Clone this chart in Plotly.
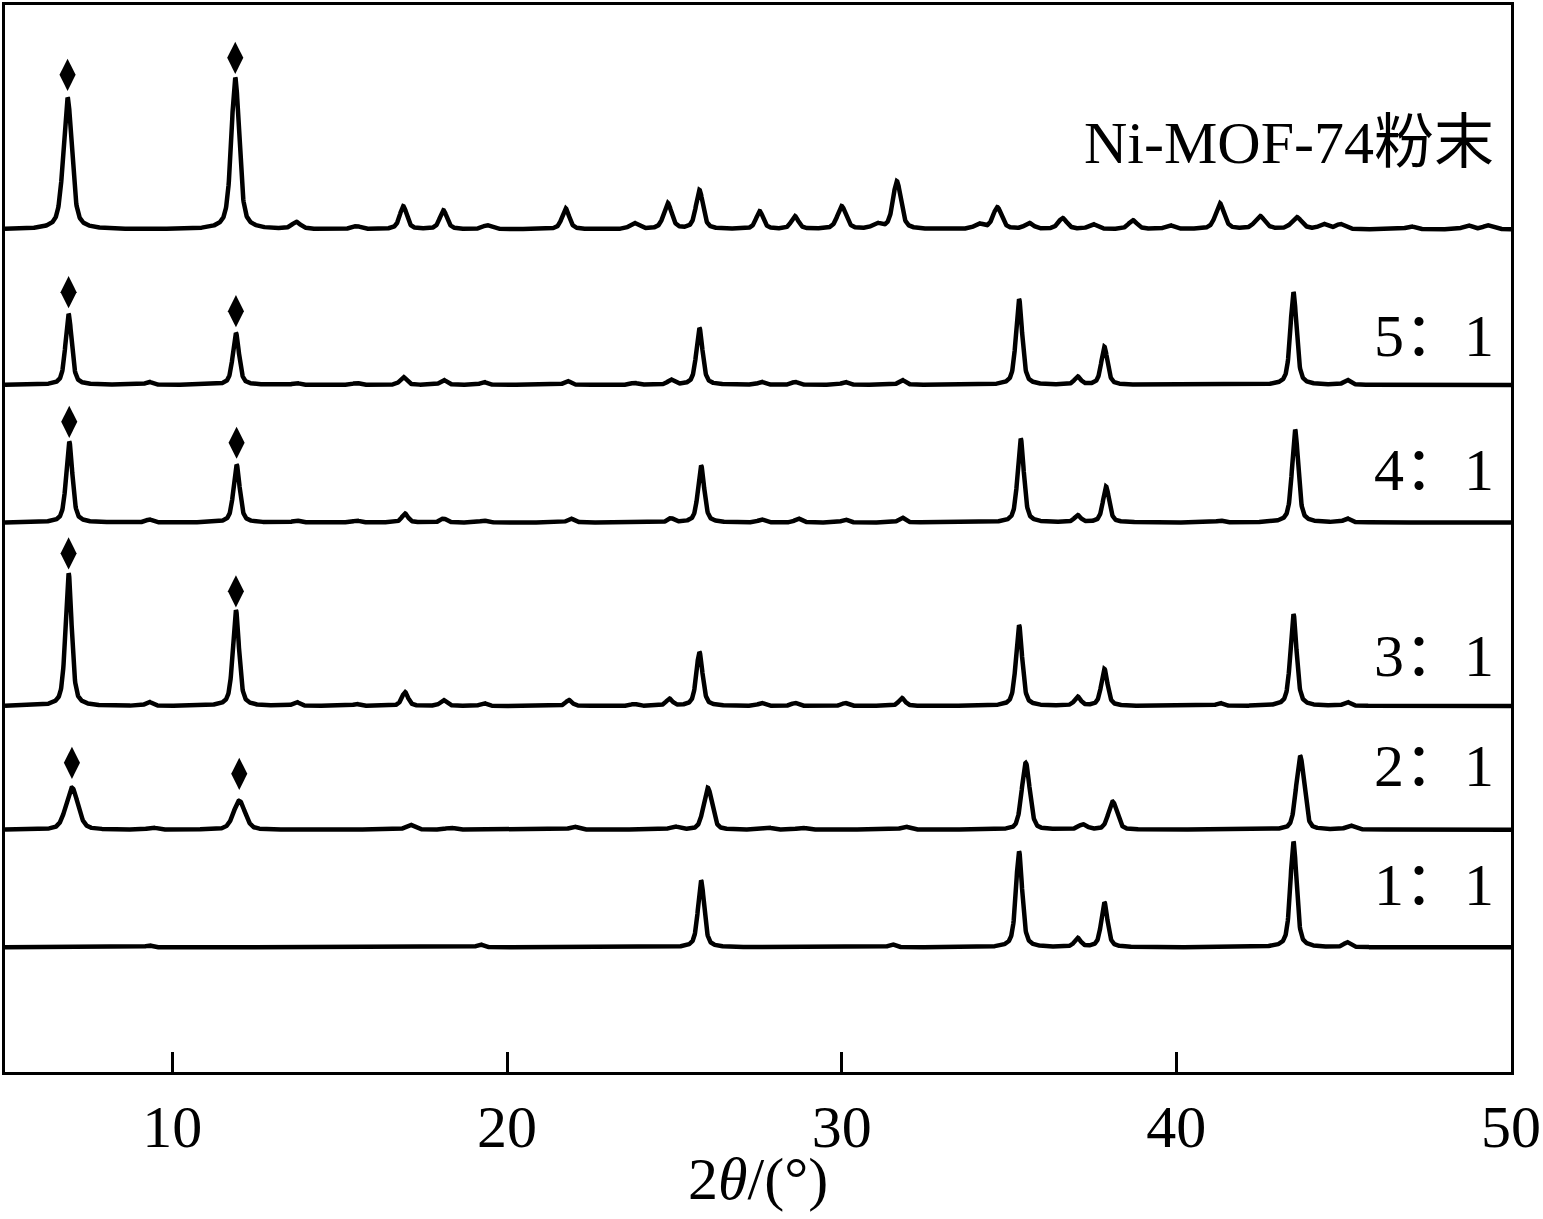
import numpy as np
import plotly.graph_objects as go

# ---- data (2theta in degrees, intensity in a.u.) ----
two_theta = np.linspace(5, 50, 4501)

mof_pos = [6.87, 11.88, 13.7, 15.5, 16.9, 18.1, 19.4, 21.75, 23.8, 24.8, 25.75, 27.55,
           28.6, 30.0, 31.05, 31.65, 34.1, 34.65, 35.6, 36.6, 37.5, 38.7, 39.8, 41.3,
           42.5, 43.6, 44.4, 44.9, 47.0, 48.7, 49.3]
mof_int = [132, 152, 7, 3, 23, 19, 4, 21, 6, 26, 39, 18,
           13, 23, 5, 48, 5, 22, 6, 11, 5, 9, 4, 26,
           13, 12, 5, 5, 3, 4, 4]
mof_fwhm = [0.3, 0.28, 0.3, 0.3, 0.25, 0.25, 0.3, 0.25, 0.3, 0.28, 0.25, 0.25,
            0.25, 0.3, 0.3, 0.28, 0.3, 0.3, 0.3, 0.3, 0.3, 0.3, 0.3, 0.3,
            0.35, 0.35, 0.3, 0.3, 0.3, 0.3, 0.3]

r51_pos = [6.9, 9.3, 11.9, 13.7, 15.5, 16.9, 18.1, 19.3, 21.8, 23.8, 24.9, 25.75,
           27.6, 28.6, 30.1, 31.8, 35.3, 37.05, 37.85, 43.5, 45.1]
r51_int = [71, 3, 52, 2, 2, 8, 5, 3, 4, 2, 5, 57, 3, 3, 3, 5, 86, 8, 38, 93, 5]

r41_pos = [6.92, 9.3, 11.92, 13.7, 15.5, 16.95, 18.1, 19.3, 21.9, 24.9, 25.8, 27.6,
           28.7, 30.1, 31.8, 35.35, 37.05, 37.9, 41.3, 43.55, 45.1]
r41_int = [81, 3, 58, 2, 2, 9, 4, 2, 4, 4, 57, 3, 4, 3, 5, 84, 7, 36, 2, 93, 4]

r31_pos = [6.9, 9.3, 11.9, 13.7, 15.5, 16.95, 18.1, 19.3, 21.85, 23.8, 24.85, 25.75,
           27.6, 28.6, 30.1, 31.8, 35.3, 37.05, 37.85, 41.3, 43.5, 45.1]
r31_int = [133, 4, 96, 4, 2, 14, 6, 3, 6, 2, 7, 54, 3, 3, 3, 8, 81, 9, 37, 3, 92, 4]

r21_pos = [7.0, 9.4, 12.0, 17.1, 18.3, 22.0, 25.0, 26.0, 27.8, 28.8, 31.9, 35.5,
           37.2, 38.1, 43.7, 45.2]
r21_int = [42, 2, 29, 5, 2, 3, 3, 42, 2, 2, 3, 67, 5, 28, 74, 4]
r21_fwhm = [0.42, 0.3, 0.4, 0.3, 0.3, 0.3, 0.3, 0.3, 0.3, 0.3, 0.3, 0.28,
            0.3, 0.3, 0.28, 0.3]

r11_pos = [9.3, 19.2, 25.8, 31.5, 35.3, 37.05, 37.85, 43.5, 45.1]
r11_int = [2, 3, 67, 3, 96, 9, 45, 106, 5]

labels = ["Ni-MOF-74粉末", "5：1", "4：1", "3：1", "2：1", "1：1"]
offsets = [845, 689, 551, 367, 243, 125]
label_y = [932, 738, 604, 417, 307, 188]

# diamonds mark the Ni-MOF-74 reflections (x, height above the curve baseline)
diamond_x = [[6.87, 11.88], [6.9, 11.9], [6.92, 11.92], [6.9, 11.9], [7.0, 12.0]]
diamond_h = [[155, 172], [93, 74], [101, 80], [153, 115], [67, 56]]


def pattern(pos, inten, fwhm, eta=0.55):
    y = np.zeros_like(two_theta)
    for p, h, w in zip(pos, inten, fwhm):
        d = (two_theta - p) / (w / 2)
        lor = 1 / (1 + d ** 2)
        gau = np.exp(-np.log(2) * d ** 2)
        y += h * (eta * lor + (1 - eta) * gau)
    return y


curves = [
    pattern(mof_pos, mof_int, mof_fwhm),
    pattern(r51_pos, r51_int, [0.22] * len(r51_pos)),
    pattern(r41_pos, r41_int, [0.22] * len(r41_pos)),
    pattern(r31_pos, r31_int, [0.22] * len(r31_pos)),
    pattern(r21_pos, r21_int, r21_fwhm, eta=0.35),
    pattern(r11_pos, r11_int, [0.22] * len(r11_pos)),
]

FONT = "Liberation Serif, Times New Roman, Noto Sans CJK SC, serif"

fig = go.Figure()
for name, y, off in zip(labels, curves, offsets):
    fig.add_trace(go.Scatter(x=two_theta, y=y + off, mode="lines", name=name,
                             line=dict(color="black", width=4.5), showlegend=False))

for xs, hs, off in zip(diamond_x, diamond_h, offsets):
    fig.add_trace(go.Scatter(x=xs, y=[h + off for h in hs], mode="markers",
                             marker=dict(symbol="diamond-tall", size=23, color="black"),
                             showlegend=False))

for text, ly in zip(labels, label_y):
    fig.add_annotation(x=49.55, y=ly, text=text, showarrow=False, xanchor="right",
                       yanchor="middle", font=dict(family=FONT, size=60, color="black"))

fig.add_annotation(x=0.5, y=-0.1, xref="paper", yref="paper", text="2<i>θ</i>/(°)",
                   showarrow=False, xanchor="center", yanchor="middle",
                   font=dict(family=FONT, size=60, color="black"))

fig.update_xaxes(range=[5, 50], tickvals=[10, 20, 30, 40, 50], ticks="inside", ticklen=20,
                 tickwidth=2.5, tickcolor="black", showline=True, linewidth=3, linecolor="black",
                 mirror=True, showgrid=False, zeroline=False, ticklabelstandoff=0,
                 ticklabeloverflow="allow",
                 tickfont=dict(family=FONT, size=60, color="black"))
fig.update_yaxes(range=[0, 1070], showticklabels=False, ticks="", showline=True, linewidth=3,
                 linecolor="black", mirror=True, showgrid=False, zeroline=False)
fig.update_layout(width=1543, height=1219, margin=dict(l=5, r=26, t=2, b=147),
                  plot_bgcolor="white", paper_bgcolor="white")

fig.write_html("out.html", config={"displayModeBar": False},
               post_script="document.body.style.margin='0';")
